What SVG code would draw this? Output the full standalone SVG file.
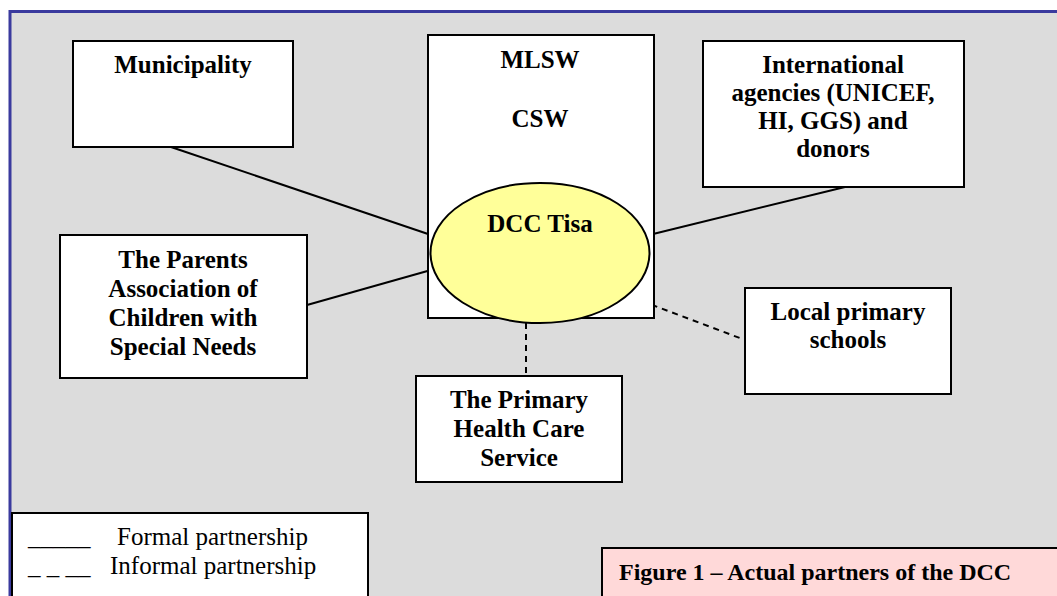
<svg xmlns="http://www.w3.org/2000/svg" width="1057" height="596" viewBox="0 0 1057 596">
<style>
.box{fill:#ffffff;stroke:#000000;stroke-width:2}
.t{font-family:"Liberation Serif","Times New Roman",serif;font-weight:bold;font-size:25px;fill:#000;text-anchor:middle}
.r{font-family:"Liberation Serif","Times New Roman",serif;font-size:25px;fill:#000}
.solid{stroke:#000;stroke-width:2;fill:none}
.dash{stroke:#000;stroke-width:2;fill:none;stroke-dasharray:6 5}
</style>
<rect x="0" y="0" width="1057" height="596" fill="#ffffff"/>
<rect id="frame" x="10" y="11.5" width="1100" height="700" fill="#dcdcdc" stroke="#3a3a9e" stroke-width="3"/>
<g id="connectors">
<line class="solid" x1="171" y1="147" x2="431" y2="235"/>
<line class="solid" x1="307" y1="305" x2="431" y2="270"/>
<line class="solid" x1="845" y1="187" x2="649" y2="235"/>
<line class="dash" x1="526" y1="323" x2="526" y2="376"/>
<line class="dash" x1="631" y1="297" x2="745" y2="340"/>
</g>
<g id="municipality">
<rect class="box" x="73" y="41" width="220" height="106"/>
<text class="t" x="183" y="73">Municipality</text>
</g>
<g id="mlsw">
<rect class="box" x="428" y="35" width="226" height="283"/>
<text class="t" x="540" y="68">MLSW</text>
<text class="t" x="540" y="127">CSW</text>
</g>
<g id="dcc">
<ellipse cx="540" cy="253" rx="109.5" ry="70" fill="#ffff99" stroke="#000" stroke-width="2"/>
<text class="t" x="540" y="232">DCC Tisa</text>
</g>
<g id="international">
<rect class="box" x="703" y="41" width="261" height="146"/>
<text class="t" x="833" y="73">International</text>
<text class="t" x="833" y="101">agencies (UNICEF,</text>
<text class="t" x="833" y="129">HI, GGS) and</text>
<text class="t" x="833" y="157">donors</text>
</g>
<g id="parents">
<rect class="box" x="60" y="235" width="247" height="143"/>
<text class="t" x="183" y="268">The Parents</text>
<text class="t" x="183" y="297">Association of</text>
<text class="t" x="183" y="326">Children with</text>
<text class="t" x="183" y="355">Special Needs</text>
</g>
<g id="schools">
<rect class="box" x="745" y="288" width="206" height="106"/>
<text class="t" x="848" y="320">Local primary</text>
<text class="t" x="848" y="348">schools</text>
</g>
<g id="health">
<rect class="box" x="416" y="376" width="206" height="106"/>
<text class="t" x="519" y="408">The Primary</text>
<text class="t" x="519" y="437">Health Care</text>
<text class="t" x="519" y="466">Service</text>
</g>
<g id="legend">
<rect class="box" x="12" y="513" width="356" height="120"/>
<text class="r" x="28" y="545">_____</text>
<text class="r" x="117" y="545">Formal partnership</text>
<text class="r" x="28" y="574">_ _ __</text>
<text class="r" x="110" y="574">Informal partnership</text>
</g>
<g id="caption">
<rect x="602" y="548" width="500" height="80" fill="#ffd9d9" stroke="#000" stroke-width="2"/>
<text class="t" x="619" y="580" style="text-anchor:start;font-size:24px">Figure 1 – Actual partners of the DCC</text>
</g>
</svg>
